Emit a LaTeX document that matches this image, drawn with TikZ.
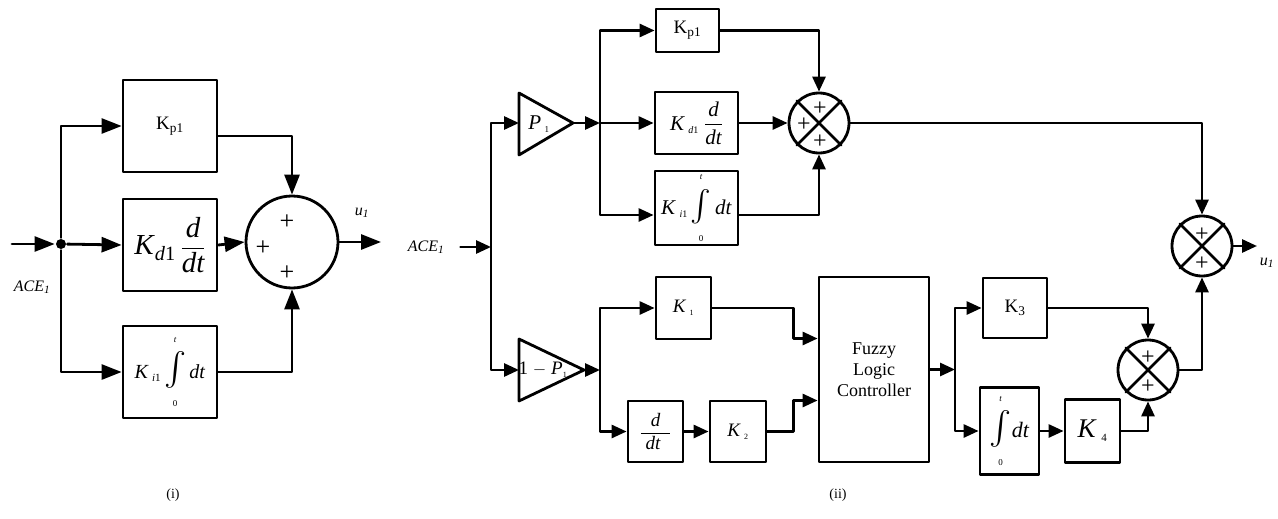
\documentclass[tikz,border=0pt]{standalone}
\usepackage{fontspec}
\setmainfont{Liberation Serif}
\usepackage{amsmath}
\usetikzlibrary{arrows.meta}

\newcommand{\fsz}[1]{\fontsize{#1}{#1}\selectfont}
% integral with limits 0 and t
\newcommand{\intlim}[1]{$\mathop{\scalebox{#1}{$\int$}}\limits_{\raisebox{-5pt}{\fsz{9}0}}^{\raisebox{5pt}{\fsz{9}\itshape t}}$}

\begin{document}
\begin{tikzpicture}[line cap=round,line join=round,>={Triangle[length=15pt,width=13pt]},x=1pt,y=-1pt,
    line width=2.8pt,
    blk/.style 2 args={draw,minimum width=#1,minimum height=#2,inner sep=0pt},
    sumc/.style={draw,circle,minimum size=#1,inner sep=0pt},
    lbl/.style={inner sep=0pt}]
    \useasboundingbox (0,0) rectangle (1278,519);

    % (i) PID controller
    \begin{scope}[>={Triangle[length=20pt,width=15pt]}]
    \coordinate (in1) at (12,244);
    \node[circle,fill,minimum size=10pt,inner sep=0pt] (jn) at (61,244) {};
    \node[blk={94}{92}] (kp1) at (170,126) {\fsz{19}K\textsubscript{p1}};
    \node[blk={94}{92}] (kd1) at (170,245) {\fsz{29}\textit{K}\textsubscript{\textit{d}1}\,$\dfrac{\textit{d}}{\textit{dt}}$};
    \node[blk={94}{92}] (ki1) at (170,372) {\fsz{20}\textit{K}\,\raisebox{-3pt}{\fsz{11}\textit{i}1}\,\intlim{1.6}\,\textit{dt}};
    \node[sumc=92] (s1) at (292,242) {};
    \node[lbl] at (287,222) {\fsz{26}+};
    \node[lbl] at (263,248) {\fsz{26}+};
    \node[lbl] at (287,273) {\fsz{26}+};
    \draw[->] (in1) -- (jn);
    \draw[->] (jn) |- (kp1.west);
    \draw[->] (jn) -- (kd1.west);
    \draw[->] (jn) |- (ki1.west);
    \draw[->] ([yshift=-10pt]kp1.east) -| (s1.north);
    \draw[->] (kd1.east) -- (s1.west);
    \draw[->] (ki1.east) -| (s1.south);
    \coordinate (out1) at (381,242);
    \draw[->] (s1.east) -- (out1);
    \node[lbl] (u1a) at (362,213) {\fsz{16}\textit{u}\textsubscript{\textit{1}}};
    \node[lbl] (ace1a) at (32,287) {\fsz{16}\textit{ACE}\textsubscript{\textit{1}}};
    \node[lbl] (capa) at (173,495) {\fsz{14}(i)};
    \end{scope}

    % (ii) fuzzy PID controller
    \node[lbl] (ace2) at (426,247) {\fsz{16}\textit{ACE}\textsubscript{\textit{1}}};
    \coordinate (br1) at (491,247);
    \draw[->] ([xshift=15pt]ace2.east) -- (br1);

    % upper branch, gain P1
    \draw (519,93) -- (573,123) -- (519,155) -- cycle;
    \coordinate (p1in) at (519,123);
    \coordinate (p1out) at (573,123);
    \node[lbl] (p1) at (539,124) {\fsz{21}\textit{P}\,\textsubscript{\fsz{9}1}};
    \draw[->] (br1) |- (p1in);
    \coordinate (br2) at (600,123);
    \draw[->] (p1out) -- (br2);
    \node[blk={63}{43}] (kp2) at (687.5,30.5) {\fsz{19}K\textsubscript{p1}};
    \node[blk={83}{62}] (kd2) at (696.5,123) {\fsz{21}\textit{K}\,\raisebox{-3pt}{\fsz{10}\textit{d}1}\;$\dfrac{\textit{d}}{\textit{dt}}$};
    \node[blk={83}{74}] (ki2) at (696.5,208) {\fsz{21}\textit{K}\,\raisebox{-3pt}{\fsz{10}\textit{i}1}\,\intlim{1.5}\,\textit{dt}};
    \draw[->] (br2) |- (kp2.west);
    \draw[->] (br2) -- (kd2.west);
    \draw[->] (br2) |- ([yshift=-7pt]ki2.west);
    \node[sumc=60] (s2) at (819,123) {};
    \draw (s2.north west) -- (s2.south east) (s2.north east) -- (s2.south west);
    \node[lbl] at (820,109) {\fsz{24}+};
    \node[lbl] at (804,125) {\fsz{24}+};
    \node[lbl] at (820,142) {\fsz{24}+};
    \draw[->] (kp2.east) -| (s2.north);
    \draw[->] (kd2.east) -- (s2.west);
    \draw[->] ([yshift=-7pt]ki2.east) -| (s2.south);

    % lower branch, gain 1-P1
    \draw (519,339) -- (584,370) -- (519,401) -- cycle;
    \coordinate (q1in) at (519,370);
    \coordinate (q1out) at (584,370);
    \node[lbl] (q1) at (543,370) {\fsz{19}1 $-$ \textit{P}\textsubscript{\fsz{8}1}};
    \draw[->] (br1) |- (q1in);
    \coordinate (br3) at (600,370);
    \draw[->] (q1out) -- (br3);
    \node[blk={55}{62}] (k1) at (683.5,308) {\fsz{19}\textit{K}\,\textsubscript{\fsz{8}1}};
    \node[blk={55}{61}] (dd) at (655.5,431.5) {\fsz{19}$\dfrac{\textit{d}}{\;\textit{dt}\;\;}$};
    \node[blk={56}{61}] (k2) at (738,431.5) {\fsz{19}\textit{K}\,\textsubscript{\fsz{8}2}};
    \draw[->] (br3) |- (k1.west);
    \draw[->] (br3) |- (dd.west);
    \draw[->] (dd) -- (k2);
    \node[blk={110}{185},align=center,font={\fontsize{18}{21}\selectfont}] (flc) at (874,369.5) {Fuzzy\\Logic\\Controller};
    \draw[->] (k1.east) -- ++(81,0) |- ([yshift=31pt]flc.west);
    \draw[->] (k2.east) -- ++(26,0) |- ([yshift=-31pt]flc.west);
    \coordinate (br4) at (955,369.5);
    \draw[->] (flc.east) -- (br4);
    \node[blk={64}{60}] (k3) at (1015,308) {\fsz{19}K\textsubscript{3}};
    \node[blk={59}{87}] (itg) at (1009.5,431) {\fsz{22}\intlim{1.6}\textit{dt}};
    \node[blk={55}{63}] (k4) at (1092.5,431) {\fsz{27}\textit{K}\,\textsubscript{\fsz{11}4}};
    \draw[->] (br4) |- (k3.west);
    \draw[->] (br4) |- (itg.west);
    \draw[->] (itg) -- (k4);
    \node[sumc=60] (s3) at (1148,370) {};
    \draw (s3.north west) -- (s3.south east) (s3.north east) -- (s3.south west);
    \node[lbl] at (1148,358) {\fsz{24}+};
    \node[lbl] at (1148,387) {\fsz{24}+};
    \draw[->] (k3.east) -| (s3.north);
    \draw[->] (k4.east) -| (s3.south);

    % output summation
    \node[sumc=60] (s4) at (1202,246) {};
    \draw (s4.north west) -- (s4.south east) (s4.north east) -- (s4.south west);
    \node[lbl] at (1202,235) {\fsz{24}+};
    \node[lbl] at (1202,264) {\fsz{24}+};
    \draw[->] (s2.east) -| (s4.north);
    \draw[->] (s3.east) -| (s4.south);
    \coordinate (out2) at (1257,246);
    \draw[->] (s4.east) -- (out2);
    \node[lbl] (u1b) at (1267,263) {\fsz{16}\textit{u}\textsubscript{\textit{1}}};
    \node[lbl] (capb) at (838,495) {\fsz{14}(ii)};
\end{tikzpicture}
\end{document}
